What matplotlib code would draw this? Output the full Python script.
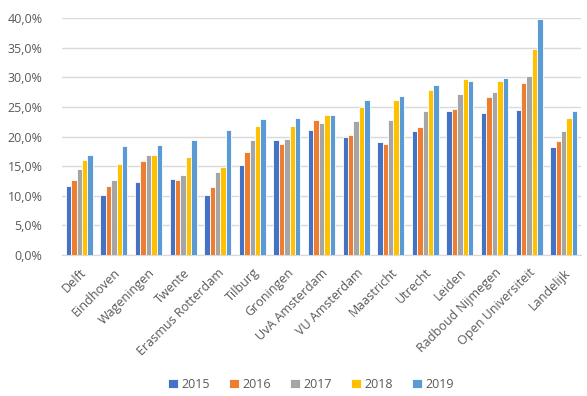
import numpy as np
import matplotlib.pyplot as plt
from matplotlib.ticker import FuncFormatter

universities = ["Delft", "Eindhoven", "Wageningen", "Twente", "Erasmus Rotterdam",
                "Tilburg", "Groningen", "UvA Amsterdam", "VU Amsterdam", "Maastricht",
                "Utrecht", "Leiden", "Radboud Nijmegen", "Open Universiteit", "Landelijk"]
years = ["2015", "2016", "2017", "2018", "2019"]

# share per year, in percent
v2015 = [11.6, 10.1, 12.3, 12.8, 10.1, 15.2, 19.4, 21.1, 19.9, 19.1, 20.9, 24.3, 24.0, 24.5, 18.2]
v2016 = [12.7, 11.6, 15.9, 12.7, 11.4, 17.3, 18.7, 22.8, 20.3, 18.7, 21.6, 24.6, 26.6, 29.1, 19.2]
v2017 = [14.5, 12.7, 16.9, 13.5, 14.0, 19.4, 19.6, 22.2, 22.6, 22.8, 24.3, 27.2, 27.5, 30.2, 20.9]
v2018 = [16.0, 15.4, 16.9, 16.5, 14.8, 21.8, 21.8, 23.6, 24.9, 26.2, 27.8, 29.7, 29.4, 34.8, 23.2]
v2019 = [16.9, 18.4, 18.6, 19.4, 21.1, 23.0, 23.2, 23.6, 26.2, 26.8, 28.7, 29.4, 29.8, 39.9, 24.3]

colors = ["#4472C4", "#ED7D31", "#A5A5A5", "#FFC000", "#5B9BD5"]

plt.rcParams['font.family'] = ['Open Sans', 'DejaVu Sans']

fig = plt.figure(figsize=(5.87, 3.96), dpi=100)
ax = fig.add_axes([62 / 587, 1 - 255 / 396, (581 - 62) / 587, (255 - 18) / 396])

x = np.arange(len(universities))
w = 0.155
series = [v2015, v2016, v2017, v2018, v2019]
for i, (vals, col, yr) in enumerate(zip(series, colors, years)):
    ax.bar(x + (i - 2) * w, vals, width=w, color=col, edgecolor="white",
           linewidth=0.6, label=yr, zorder=3)

ax.set_ylim(0, 40)
ax.set_xlim(-0.5, len(universities) - 0.5)
ax.set_yticks(np.arange(0, 41, 5))
ax.yaxis.set_major_formatter(FuncFormatter(lambda v, p: f"{v:.1f}%".replace(".", ",")))
ax.grid(axis="y", color="#D9D9D9", linewidth=1, zorder=0)

for s in ["top", "right", "left"]:
    ax.spines[s].set_visible(False)
ax.spines["bottom"].set_color("#D9D9D9")

ax.tick_params(axis="both", length=0, labelsize=9, colors="#595959")
ax.tick_params(axis="y", pad=14)
ax.tick_params(axis="x", pad=8)
ax.set_xticks(x)
ax.set_xticklabels(universities, rotation=45, ha="right", rotation_mode="anchor")

fig.legend(loc="lower center", bbox_to_anchor=(0.53, -0.015), ncol=5, frameon=False,
           fontsize=9, labelcolor="#595959", handlelength=0.8, handleheight=0.8,
           handletextpad=0.3, columnspacing=1.5)

fig.savefig("out.png", dpi=100)
